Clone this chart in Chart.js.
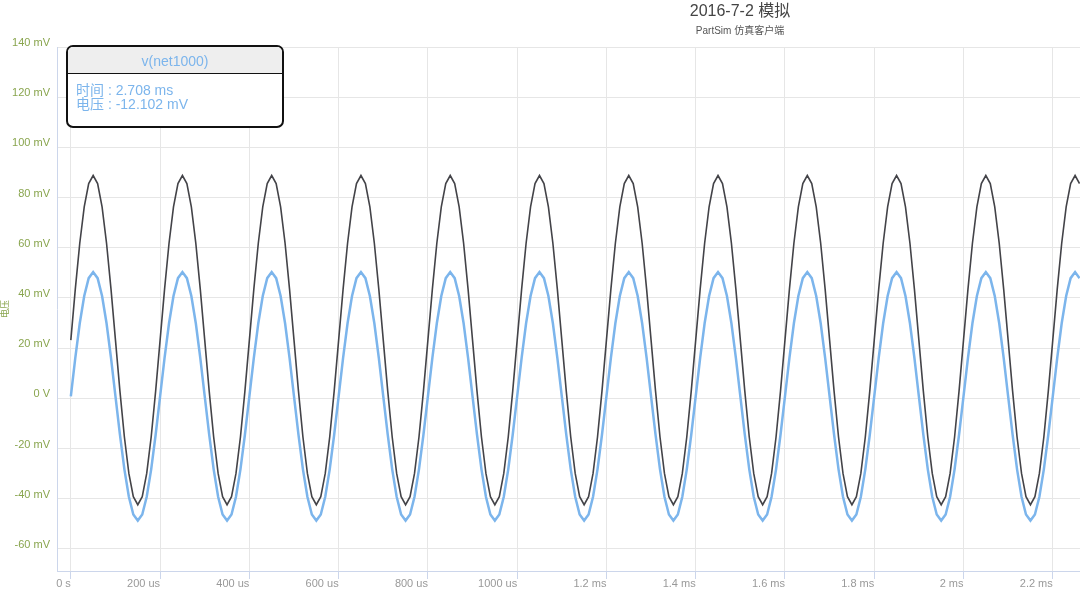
<!DOCTYPE html>
<html>
<head>
<meta charset="utf-8">
<script src="https://cdn.jsdelivr.net/npm/chart.js@4/dist/chart.umd.min.js"></script>
<style>
  body { margin: 0; background: #fff; overflow: hidden; }
  #wrap { position: relative; width: 1080px; height: 594px; }
  #tip {
    position: absolute; left: 66px; top: 45px; width: 214px; height: 79px;
    border: 2px solid #111; border-radius: 7px; background: #fff; overflow: hidden;
    font-family: 'Liberation Sans', Arial, 'Noto Sans CJK SC', sans-serif; color: #7cb5ec;
  }
  #tip .hd {
    height: 26px; line-height: 29px; background: #eeeeee; border-bottom: 1.5px solid #111;
    text-align: center; font-size: 14px;
  }
  #tip .bd { padding: 9px 8px; font-size: 14px; line-height: 14px; }
</style>
</head>
<body>
<div id="wrap">
  <canvas id="chart" width="1080" height="594"></canvas>
  <div id="tip">
    <div class="hd">v(net1000)</div>
    <div class="bd">时间 : 2.708 ms<br>电压 : -12.102 mV</div>
  </div>
</div>
<script>
// time samples in us
const times = [
  0, 10, 20, 30, 40, 50, 60, 70, 80, 90, 100, 110, 120, 130, 140, 150, 160, 170, 180, 190,
  200, 210, 220, 230, 240, 250, 260, 270, 280, 290, 300, 310, 320, 330, 340, 350, 360, 370, 380, 390,
  400, 410, 420, 430, 440, 450, 460, 470, 480, 490, 500, 510, 520, 530, 540, 550, 560, 570, 580, 590,
  600, 610, 620, 630, 640, 650, 660, 670, 680, 690, 700, 710, 720, 730, 740, 750, 760, 770, 780, 790,
  800, 810, 820, 830, 840, 850, 860, 870, 880, 890, 900, 910, 920, 930, 940, 950, 960, 970, 980, 990,
  1000, 1010, 1020, 1030, 1040, 1050, 1060, 1070, 1080, 1090, 1100, 1110, 1120, 1130, 1140, 1150, 1160, 1170, 1180, 1190,
  1200, 1210, 1220, 1230, 1240, 1250, 1260, 1270, 1280, 1290, 1300, 1310, 1320, 1330, 1340, 1350, 1360, 1370, 1380, 1390,
  1400, 1410, 1420, 1430, 1440, 1450, 1460, 1470, 1480, 1490, 1500, 1510, 1520, 1530, 1540, 1550, 1560, 1570, 1580, 1590,
  1600, 1610, 1620, 1630, 1640, 1650, 1660, 1670, 1680, 1690, 1700, 1710, 1720, 1730, 1740, 1750, 1760, 1770, 1780, 1790,
  1800, 1810, 1820, 1830, 1840, 1850, 1860, 1870, 1880, 1890, 1900, 1910, 1920, 1930, 1940, 1950, 1960, 1970, 1980, 1990,
  2000, 2010, 2020, 2030, 2040, 2050, 2060, 2070, 2080, 2090, 2100, 2110, 2120, 2130, 2140, 2150, 2160, 2170, 2180, 2190,
  2200, 2210, 2220, 2230, 2240, 2250, 2260
];

// v(net1000) - blue, mV
const blueVals = [
  0.8, 16.1, 29.9, 40.8, 47.9, 50.3, 47.9, 40.8, 29.9, 16.1, 0.8, -14.5, -28.3, -39.2, -46.3, -48.7, -46.3, -39.2, -28.3, -14.5,
  0.8, 16.1, 29.9, 40.8, 47.9, 50.3, 47.9, 40.8, 29.9, 16.1, 0.8, -14.5, -28.3, -39.2, -46.3, -48.7, -46.3, -39.2, -28.3, -14.5,
  0.8, 16.1, 29.9, 40.8, 47.9, 50.3, 47.9, 40.8, 29.9, 16.1, 0.8, -14.5, -28.3, -39.2, -46.3, -48.7, -46.3, -39.2, -28.3, -14.5,
  0.8, 16.1, 29.9, 40.8, 47.9, 50.3, 47.9, 40.8, 29.9, 16.1, 0.8, -14.5, -28.3, -39.2, -46.3, -48.7, -46.3, -39.2, -28.3, -14.5,
  0.8, 16.1, 29.9, 40.8, 47.9, 50.3, 47.9, 40.8, 29.9, 16.1, 0.8, -14.5, -28.3, -39.2, -46.3, -48.7, -46.3, -39.2, -28.3, -14.5,
  0.8, 16.1, 29.9, 40.8, 47.9, 50.3, 47.9, 40.8, 29.9, 16.1, 0.8, -14.5, -28.3, -39.2, -46.3, -48.7, -46.3, -39.2, -28.3, -14.5,
  0.8, 16.1, 29.9, 40.8, 47.9, 50.3, 47.9, 40.8, 29.9, 16.1, 0.8, -14.5, -28.3, -39.2, -46.3, -48.7, -46.3, -39.2, -28.3, -14.5,
  0.8, 16.1, 29.9, 40.8, 47.9, 50.3, 47.9, 40.8, 29.9, 16.1, 0.8, -14.5, -28.3, -39.2, -46.3, -48.7, -46.3, -39.2, -28.3, -14.5,
  0.8, 16.1, 29.9, 40.8, 47.9, 50.3, 47.9, 40.8, 29.9, 16.1, 0.8, -14.5, -28.3, -39.2, -46.3, -48.7, -46.3, -39.2, -28.3, -14.5,
  0.8, 16.1, 29.9, 40.8, 47.9, 50.3, 47.9, 40.8, 29.9, 16.1, 0.8, -14.5, -28.3, -39.2, -46.3, -48.7, -46.3, -39.2, -28.3, -14.5,
  0.8, 16.1, 29.9, 40.8, 47.9, 50.3, 47.9, 40.8, 29.9, 16.1, 0.8, -14.5, -28.3, -39.2, -46.3, -48.7, -46.3, -39.2, -28.3, -14.5,
  0.8, 16.1, 29.9, 40.8, 47.9, 50.3, 47.9
];

// second trace - dark, mV
const darkVals = [
  23.2, 43.5, 61.8, 76.3, 85.6, 88.8, 85.6, 76.3, 61.8, 43.5, 23.2, 2.9, -15.4, -29.9, -39.2, -42.4, -39.2, -29.9, -15.4, 2.9,
  23.2, 43.5, 61.8, 76.3, 85.6, 88.8, 85.6, 76.3, 61.8, 43.5, 23.2, 2.9, -15.4, -29.9, -39.2, -42.4, -39.2, -29.9, -15.4, 2.9,
  23.2, 43.5, 61.8, 76.3, 85.6, 88.8, 85.6, 76.3, 61.8, 43.5, 23.2, 2.9, -15.4, -29.9, -39.2, -42.4, -39.2, -29.9, -15.4, 2.9,
  23.2, 43.5, 61.8, 76.3, 85.6, 88.8, 85.6, 76.3, 61.8, 43.5, 23.2, 2.9, -15.4, -29.9, -39.2, -42.4, -39.2, -29.9, -15.4, 2.9,
  23.2, 43.5, 61.8, 76.3, 85.6, 88.8, 85.6, 76.3, 61.8, 43.5, 23.2, 2.9, -15.4, -29.9, -39.2, -42.4, -39.2, -29.9, -15.4, 2.9,
  23.2, 43.5, 61.8, 76.3, 85.6, 88.8, 85.6, 76.3, 61.8, 43.5, 23.2, 2.9, -15.4, -29.9, -39.2, -42.4, -39.2, -29.9, -15.4, 2.9,
  23.2, 43.5, 61.8, 76.3, 85.6, 88.8, 85.6, 76.3, 61.8, 43.5, 23.2, 2.9, -15.4, -29.9, -39.2, -42.4, -39.2, -29.9, -15.4, 2.9,
  23.2, 43.5, 61.8, 76.3, 85.6, 88.8, 85.6, 76.3, 61.8, 43.5, 23.2, 2.9, -15.4, -29.9, -39.2, -42.4, -39.2, -29.9, -15.4, 2.9,
  23.2, 43.5, 61.8, 76.3, 85.6, 88.8, 85.6, 76.3, 61.8, 43.5, 23.2, 2.9, -15.4, -29.9, -39.2, -42.4, -39.2, -29.9, -15.4, 2.9,
  23.2, 43.5, 61.8, 76.3, 85.6, 88.8, 85.6, 76.3, 61.8, 43.5, 23.2, 2.9, -15.4, -29.9, -39.2, -42.4, -39.2, -29.9, -15.4, 2.9,
  23.2, 43.5, 61.8, 76.3, 85.6, 88.8, 85.6, 76.3, 61.8, 43.5, 23.2, 2.9, -15.4, -29.9, -39.2, -42.4, -39.2, -29.9, -15.4, 2.9,
  23.2, 43.5, 61.8, 76.3, 85.6, 88.8, 85.6
];

const xTicks = [0, 200, 400, 600, 800, 1000, 1200, 1400, 1600, 1800, 2000, 2200];
const yTicks = [-60, -40, -20, 0, 20, 40, 60, 80, 100, 120, 140];

const titleText = '2016-7-2 模拟';
const subtitleText = 'PartSim 仿真客户端';

const font = "'Liberation Sans', Arial, 'Noto Sans CJK SC', sans-serif";

function xLabel(v) {
    if (v === 0) return '0 s';
    if (v <= 1000) return v + ' us';
    return (v / 1000) + ' ms';
}

function yLabel(v) {
    return v === 0 ? '0 V' : v + ' mV';
}

const titlePlugin = {
    id: 'titles',
    afterDraw(chart) {
        const ctx = chart.ctx;
        ctx.save();
        ctx.textAlign = 'center';
        ctx.textBaseline = 'middle';
        ctx.fillStyle = '#444';
        ctx.font = '16px ' + font;
        ctx.fillText(titleText, 740, 12);
        ctx.fillStyle = '#555';
        ctx.font = '10px ' + font;
        ctx.fillText(subtitleText, 740, 31);
        ctx.restore();
    }
};

const ctx = document.getElementById('chart').getContext('2d');
new Chart(ctx, {
    type: 'line',
    data: {
        datasets: [{
            label: 'dark',
            data: times.map((t, i) => ({ x: t, y: darkVals[i] })),
            borderColor: '#434348',
            borderWidth: 1.6,
            pointRadius: 0,
            tension: 0,
            fill: false
        }, {
            label: 'v(net1000)',
            data: times.map((t, i) => ({ x: t, y: blueVals[i] })),
            borderColor: '#7cb5ec',
            borderWidth: 2.5,
            pointRadius: 0,
            tension: 0,
            fill: false
        }]
    },
    options: {
        responsive: false,
        devicePixelRatio: 1,
        animation: false,
        layout: { padding: { top: 47, right: 0, left: 0, bottom: 0 } },
        plugins: {
            legend: { display: false },
            tooltip: { enabled: false }
        },
        scales: {
            x: {
                type: 'linear',
                min: -31,
                max: 2261,
                afterBuildTicks: scale => { scale.ticks = xTicks.map(v => ({ value: v })); },
                afterFit: scale => { scale.height = 23; },
                grid: { color: '#e6e6e6', tickColor: '#ccd6eb', tickLength: 8 },
                border: { color: '#ccd6eb', width: 1 },
                ticks: {
                    align: 'end',
                    maxRotation: 0,
                    autoSkip: false,
                    padding: -2,
                    color: '#999',
                    font: { family: font, size: 11 },
                    callback: v => xLabel(v)
                }
            },
            y: {
                min: -68.8,
                max: 140,
                afterBuildTicks: scale => { scale.ticks = yTicks.map(v => ({ value: v })); },
                afterFit: scale => { scale.width = 57; },
                grid: { color: '#e6e6e6', drawTicks: false },
                border: { color: '#ccd6eb', width: 1 },
                title: {
                    display: true,
                    text: '电压',
                    color: '#89a54e',
                    font: { family: font, size: 9 },
                    padding: 0
                },
                ticks: {
                    padding: 7,
                    labelOffset: -4,
                    color: '#89a54e',
                    font: { family: font, size: 11 },
                    callback: v => yLabel(v)
                }
            }
        }
    },
    plugins: [titlePlugin]
});
</script>
</body>
</html>
